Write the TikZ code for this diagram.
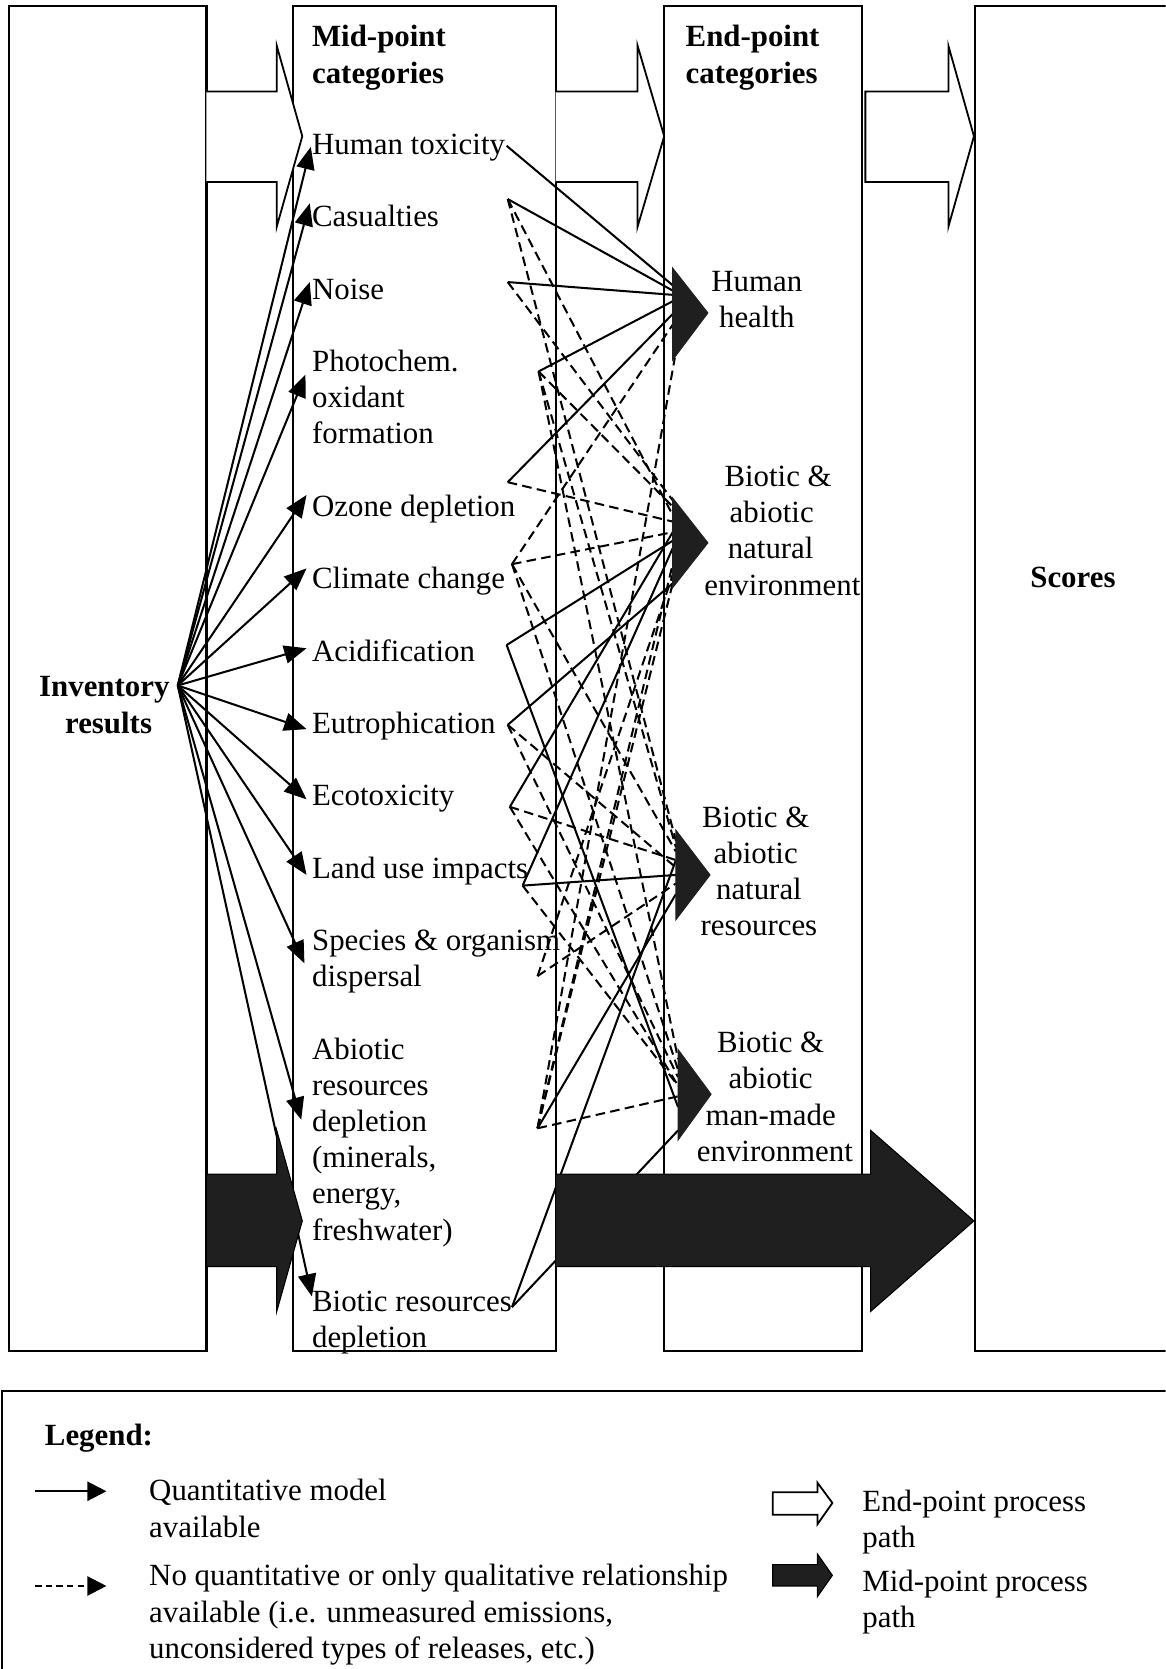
\documentclass[tikz,border=0pt]{standalone}
\usepackage{fontspec}
\setmainfont{Liberation Serif}
\usetikzlibrary{arrows.meta}

\tikzset{
  frame/.style={draw, line width=1.9pt},
  lbl/.style={inner sep=0pt, anchor=base west, font=\fontsize{29}{34}\selectfont},
  clbl/.style={inner sep=0pt, anchor=base, font=\fontsize{29}{34}\selectfont},
  hdr/.style={lbl, font=\fontsize{29}{34}\selectfont\bfseries},
  quant/.style={line width=1.9pt},
  qual/.style={line width=1.9pt, dash pattern=on 9pt off 5pt},
  fanarrow/.style={line width=1.9pt, -{Triangle[length=21pt,width=17pt]}},
  whitepath/.style={draw, fill=white, line width=1.7pt, line join=miter},
  blackpath/.style={draw, fill=black!88, line width=1pt},
  endhead/.style={fill=black!88, draw=black!88, line width=1pt},
}

\begin{document}
\begin{tikzpicture}[x=1pt, y=-1pt]
\useasboundingbox (0,0) rectangle (1095,1568);
\clip (0,0) rectangle (1095,1568);

% ---- column frames ----
\draw[frame] (8,6) rectangle (194,1269);
\draw[frame] (275,6) rectangle (522,1269);
\draw[frame] (624,6) rectangle (810,1269);
\draw[frame] (916,6) rectangle (1110,1269);

% ---- end-point process path arrows (white) ----
\draw[whitepath] (194,86) -- (260,86) -- (260,43) -- (284,128) -- (260,213) -- (260,171) -- (194,171);
\draw[whitepath] (522,86) -- (599,86) -- (599,43) -- (624,128) -- (599,213) -- (599,171) -- (522,171);
\draw[whitepath] (813,86) -- (891,86) -- (891,43) -- (915,128) -- (891,213) -- (891,171) -- (813,171) -- cycle;

% ---- headings ----
\node[hdr] (midh1) at (293,44) {Mid-point};
\node[hdr] (midh2) at (293,78) {categories};
\node[hdr] (endh1) at (644,44) {End-point};
\node[hdr] (endh2) at (644,78) {categories};
\node[clbl, font=\fontsize{29}{34}\selectfont\bfseries] (inv1) at (98,654) {Inventory};
\node[clbl, font=\fontsize{29}{34}\selectfont\bfseries] (inv2) at (102,689) {results};
\node[clbl, font=\fontsize{29}{34}\selectfont\bfseries] (scores) at (1008,552) {Scores};

% ---- mid-point categories ----
\node[lbl] (ht)   at (293,145) {Human toxicity};
\node[lbl] (cas)  at (293,213) {Casualties};
\node[lbl] (noi)  at (293,281) {Noise};
\node[lbl] (ph1)  at (293,349) {Photochem.};
\node[lbl] (ph2)  at (293,383) {oxidant};
\node[lbl] (ph3)  at (293,417) {formation};
\node[lbl] (ozo)  at (293,485) {Ozone depletion};
\node[lbl] (cli)  at (293,553) {Climate change};
\node[lbl] (aci)  at (293,621) {Acidification};
\node[lbl] (eut)  at (293,689) {Eutrophication};
\node[lbl] (eco)  at (293,757) {Ecotoxicity};
\node[lbl] (lan)  at (293,825) {Land use impacts};
\node[lbl] (sp1)  at (293,893) {Species \& organism};
\node[lbl] (sp2)  at (293,927) {dispersal};
\node[lbl] (ab1)  at (293,995) {Abiotic};
\node[lbl] (ab2)  at (293,1029) {resources};
\node[lbl] (ab3)  at (293,1063) {depletion};
\node[lbl] (ab4)  at (293,1097) {(minerals,};
\node[lbl] (ab5)  at (293,1131) {energy,};
\node[lbl] (ab6)  at (293,1165) {freshwater)};
\node[lbl] (bi1)  at (293,1232) {Biotic resources};
\node[lbl] (bi2)  at (293,1266) {depletion};

% ---- end-point categories ----
\node[clbl] (hh1) at (711,274) {Human};
\node[clbl] (hh2) at (711,308) {health};
\node[clbl] (ne1) at (731,457) {Biotic \&};
\node[clbl] (ne2) at (725,491) {abiotic};
\node[clbl] (ne3) at (724,525) {natural};
\node[clbl] (ne4) at (735,559) {environment};
\node[clbl] (nr1) at (710,777) {Biotic \&};
\node[clbl] (nr2) at (710,811) {abiotic};
\node[clbl] (nr3) at (713,845) {natural};
\node[clbl] (nr4) at (713,879) {resources};
\node[clbl] (mm1) at (724,989) {Biotic \&};
\node[clbl] (mm2) at (724,1023) {abiotic};
\node[clbl] (mm3) at (724,1057) {man-made};
\node[clbl] (mm4) at (728,1091) {environment};

% ---- fan from the inventory results ----
\coordinate (inv) at (167,644);
\coordinate (tht)  at (292,138);
\coordinate (tcas) at (291,191);
\coordinate (tnoi) at (291,265);
\coordinate (tph)  at (287,352);
\coordinate (tozo) at (288,465);
\coordinate (tcli) at (288,534);
\coordinate (taci) at (288,609);
\coordinate (teut) at (288,685);
\coordinate (teco) at (288,751);
\coordinate (tlan) at (288,822);
\coordinate (tsp)  at (286,905);
\coordinate (tab)  at (283,1052);
\coordinate (tbi)  at (293,1218);
\foreach \t in {tht,tcas,tnoi,tph,tozo,tcli,taci,teut,teco,tlan,tsp,tab,tbi}
  \draw[fanarrow] (inv) -- (\t);

% ---- mid-point link origins ----
\coordinate (vht)  at (476,137);
\coordinate (vcas) at (477,187);
\coordinate (vnoi) at (477,265);
\coordinate (vph)  at (506,349);
\coordinate (vozo) at (477,453);
\coordinate (vcli) at (481,530);
\coordinate (vaci) at (476,606);
\coordinate (veut) at (477,681);
\coordinate (veco) at (479,758);
\coordinate (vlan) at (491,832);
\coordinate (vsp)  at (505,917);
\coordinate (vab)  at (505,1060);
\coordinate (vbi)  at (481,1228);

% ---- end-point link targets ----
\coordinate (hha) at (632,268);
\coordinate (hhb) at (632,273);
\coordinate (hhc) at (632,277);
\coordinate (hhd) at (632,283);
\coordinate (hhe) at (632,295);
\coordinate (hhf) at (632,305);
\coordinate (hhg) at (634,336);
\coordinate (nea) at (632,470);
\coordinate (neb) at (632,476);
\coordinate (nek) at (632,484);
\coordinate (nec) at (632,490);
\coordinate (ned) at (632,500);
\coordinate (nee) at (632,508);
\coordinate (nef) at (632,515);
\coordinate (neh) at (632,530);
\coordinate (nei) at (632,540);
\coordinate (nej) at (632,548);
\coordinate (nra) at (635,790);
\coordinate (nrh) at (635,796);
\coordinate (nrb) at (635,800);
\coordinate (nrc) at (635,808);
\coordinate (nrd) at (635,815);
\coordinate (nre) at (635,822);
\coordinate (nrf) at (635,830);
\coordinate (nrg) at (635,840);
\coordinate (mma) at (637,995);
\coordinate (mmb) at (637,1005);
\coordinate (mmc) at (637,1012);
\coordinate (mmd) at (637,1020);
\coordinate (mme) at (637,1030);
\coordinate (mmf) at (637,1040);
\coordinate (mmg) at (637,1062);

% quantitative links
\draw[quant] (vht) -- (hha);
\draw[quant] (vcas) -- (hhb);
\draw[quant] (vnoi) -- (hhc);
\draw[quant] (vph) -- (hhd);
\draw[quant] (vozo) -- (hhe);
\draw[quant] (vaci) -- (nee);
\draw[quant] (vaci) -- (mmf);
\draw[quant] (veut) -- (nej);
\draw[quant] (veco) -- (ned);
\draw[quant] (vlan) -- (nef);
\draw[quant] (vlan) -- (nre);
\draw[quant] (vab) -- (nrg);
\draw[quant] (vbi) -- (nrc);
\draw[quant] (vbi) -- (mmg);

% qualitative links
\draw[qual] (vcas) -- (nek);
\draw[qual] (vcas) -- (nra);
\draw[qual] (vnoi) -- (nea);
\draw[qual] (vph) -- (neb);
\draw[qual] (vph) -- (nrh);
\draw[qual] (vph) -- (mma);
\draw[qual] (vozo) -- (nec);
\draw[qual] (vcli) -- (hhf);
\draw[qual] (vcli) -- (ned);
\draw[qual] (vcli) -- (nrb);
\draw[qual] (vcli) -- (mmb);
\draw[qual] (veut) -- (nrd);
\draw[qual] (veut) -- (mmc);
\draw[qual] (veco) -- (nrc);
\draw[qual] (veco) -- (mmd);
\draw[qual] (vlan) -- (mmd);
\draw[qual] (vsp) -- (nei);
\draw[qual] (vsp) -- (nrf);
\draw[qual] (vab) -- (hhg);
\draw[qual] (vab) -- (nej);
\draw[qual] (vab) -- (neh);
\draw[qual] (vab) -- (mme);

% ---- end-point heads ----
\fill[endhead] (632,252) -- (665,294) -- (632,338) -- cycle;
\fill[endhead] (632,468) -- (665,510) -- (632,552) -- cycle;
\fill[endhead] (635,780) -- (667,822) -- (635,864) -- cycle;
\fill[endhead] (637,986) -- (668,1028) -- (637,1071) -- cycle;

% ---- mid-point process path arrows (black) ----
\draw[blackpath] (194,1103) -- (260,1103) -- (260,1062) -- (284,1147) -- (260,1232) -- (260,1190) -- (194,1190) -- cycle;
\draw[blackpath] (522,1103) -- (818,1103) -- (818,1062) -- (915,1147) -- (818,1232) -- (818,1190) -- (522,1190) -- cycle;

% ---- legend ----
\draw[frame] (2,1307) rectangle (1120,1600);
\node[hdr] (leg) at (42,1358) {Legend:};
\coordinate (qa) at (33,1401);
\coordinate (qb) at (100,1401);
\coordinate (da) at (33,1490);
\coordinate (db) at (100,1490);
\draw[line width=2.2pt, -{Triangle[length=18pt,width=18pt]}] (qa) -- (qb);
\draw[line width=2.2pt, dash pattern=on 6pt off 4pt, -{Triangle[length=18pt,width=18pt]}] (da) -- (db);
\node[lbl] (lq1) at (140,1410) {Quantitative model};
\node[lbl] (lq2) at (140,1444) {available};
\node[lbl] (ld1) at (140,1490) {No quantitative or only qualitative relationship};
\node[lbl] (ld2) at (140,1524) {available (i.e. unmeasured emissions,};
\node[lbl] (ld3) at (140,1558) {unconsidered types of releases, etc.)};
\draw[whitepath] (726,1402) -- (768,1402) -- (768,1393) -- (782,1412) -- (768,1432) -- (768,1423) -- (726,1423) -- cycle;
\draw[blackpath] (726,1470) -- (768,1470) -- (768,1460) -- (782,1480) -- (768,1500) -- (768,1490) -- (726,1490) -- cycle;
\node[lbl] (le1) at (810,1420) {End-point process};
\node[lbl] (le2) at (810,1454) {path};
\node[lbl] (lm1) at (810,1495) {Mid-point process};
\node[lbl] (lm2) at (810,1529) {path};
\end{tikzpicture}
\end{document}
